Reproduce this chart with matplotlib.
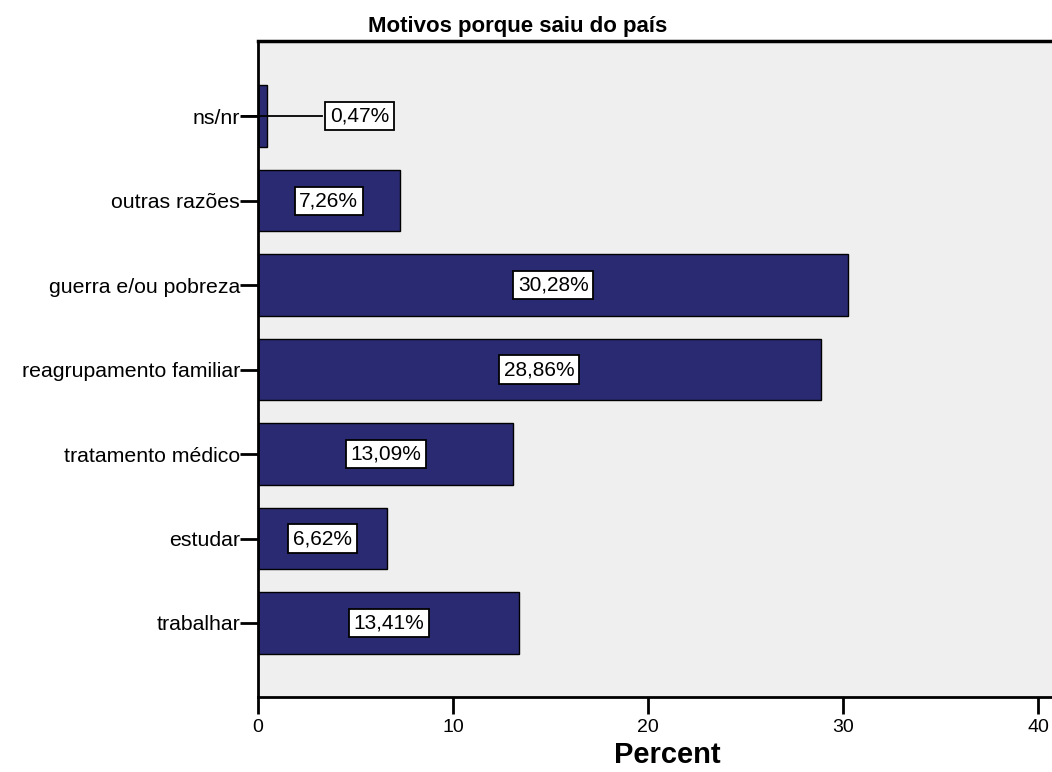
import matplotlib
matplotlib.use("Agg")
import matplotlib.pyplot as plt

categories = ["trabalhar", "estudar", "tratamento médico", "reagrupamento familiar",
              "guerra e/ou pobreza", "outras razões", "ns/nr"]
values = [13.41, 6.62, 13.09, 28.86, 30.28, 7.26, 0.47]
value_labels = ["13,41%", "6,62%", "13,09%", "28,86%", "30,28%", "7,26%", "0,47%"]
xticks = [0, 10, 20, 30, 40]

plt.rcParams['font.family'] = ['Liberation Sans', 'DejaVu Sans']

fig = plt.figure(figsize=(10.52, 7.72), dpi=100)
ax = fig.add_axes([0.2452, 0.0972, 0.7548, 0.8497])
ax.set_facecolor('#efefef')

pos = list(range(len(categories)))
ax.barh(pos, values, height=0.73, color='#2a2a72', edgecolor='black', linewidth=1.0)

for p, v, lab in zip(pos, values, value_labels):
    bbox = dict(boxstyle='square,pad=0.22', fc='white', ec='black', lw=1.3)
    if v < 2:
        lx = 5.2
        ax.plot([-0.8, lx - 1.9], [p, p], color='black', lw=1.3, zorder=3, clip_on=False)
        ax.text(lx, p, lab, ha='center', va='center', fontsize=15, bbox=bbox, zorder=4)
    else:
        ax.text(v / 2, p, lab, ha='center', va='center', fontsize=15, bbox=bbox, zorder=4)

ax.set_yticks(pos)
ax.set_yticklabels(categories, fontsize=15.3)
ax.set_xticks(xticks)
ax.set_xticklabels([str(t) for t in xticks], fontsize=14)
ax.set_xlim(0, 40.72)
ax.set_ylim(-0.876, 6.89)

ax.tick_params(axis='y', length=13, width=2, pad=0, color='black')
ax.tick_params(axis='x', length=12, width=2, pad=4, color='black')

ax.spines['right'].set_visible(False)
ax.spines['top'].set_linewidth(2.5)
ax.spines['left'].set_linewidth(2)
ax.spines['bottom'].set_linewidth(2)

fig.text(0.492, 0.966, "Motivos porque saiu do país", ha='center', va='center',
         fontsize=16, fontweight='bold')
fig.text(0.634, 0.004, "Percent", ha='center', va='bottom', fontsize=21, fontweight='bold')

fig.savefig("out.png", dpi=100)
